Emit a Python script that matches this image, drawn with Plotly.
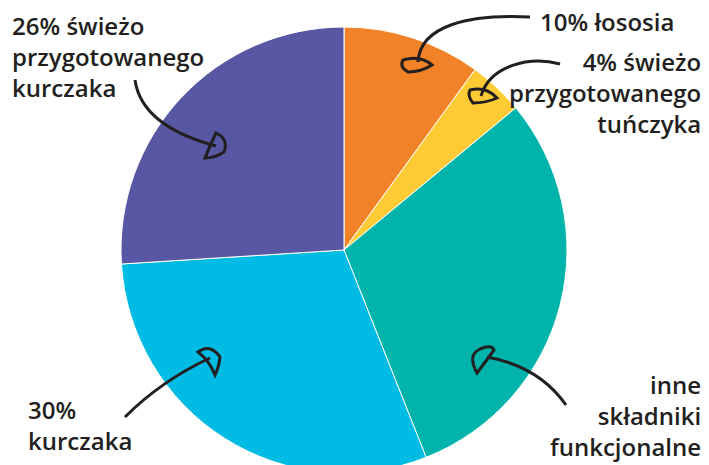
import plotly.graph_objects as go

W, H = 709, 473

labels = ["10% łososia", "4% świeżo<br>przygotowanego<br>tuńczyka", "inne<br>składniki<br>funkcjonalne",
          "30%<br>kurczaka", "26% świeżo<br>przygotowanego<br>kurczaka"]
values = [10, 4, 30, 30, 26]
colors = ["#F28227", "#FECB34", "#00B4AB", "#00BCE5", "#5757A3"]

# label placement (pixels): x edge, first baseline, anchor
label_pos = [(676, 28, "right"), (703, 68, "right"), (703, 391, "right"),
             (26, 416, "left"), (10, 32, "left")]

# hand-drawn arrows in pixel space: curve + head outline
arrow_lines = [
    "M 530 17 C 470 14 420 25 418 62",
    "M 560 64 C 530 56 490 65 481 96",
    "M 566 405 C 545 375 515 362 487 357",
    "M 125 417 C 150 392 180 372 210 358",
    "M 135 80 C 140 115 175 135 216 146",
]
arrow_heads = [
    "M 403 60 Q 420 55 432 65 Q 421 72 408 72 Q 399 67 403 60 Z",
    "M 470 90 Q 486 86 497 98 Q 486 103 473 103 Q 467 96 470 90 Z",
    "M 477 373 Q 467 355 480 349 Q 492 344 494 350 Q 486 361 477 373 Z",
    "M 198 352 Q 210 343 220 357 Q 219 367 215 375 Q 209 360 198 352 Z",
    "M 216 133 Q 229 139 224 152 Q 215 158 205 158 Q 210 145 216 133 Z",
]


def to_paper(path):
    out = []
    toks = path.split()
    i = 0
    while i < len(toks):
        t = toks[i]
        if t.isalpha():
            out.append(t)
            i += 1
        else:
            x = float(toks[i]); y = float(toks[i + 1])
            out.append(f"{x / W:.5f},{1 - y / H:.5f}")
            i += 2
    return " ".join(out)


fig = go.Figure(go.Pie(
    values=values,
    labels=labels,
    marker=dict(colors=colors, line=dict(color="white", width=1)),
    sort=False,
    direction="clockwise",
    rotation=0,
    textinfo="none",
    hoverinfo="none",
    showlegend=False,
    domain=dict(x=[121 / W, 567 / W], y=[0, 446 / H]),
))

FS = 24
font = dict(family="'Open Sans', Lato, sans-serif", size=FS, color="#231F20", weight=600)
for lab, (x, base, anc) in zip(labels, label_pos):
    top = base - 25
    fig.add_annotation(text=lab, x=x / W, y=1 - top / H, xref="paper", yref="paper",
                       xanchor=anc, yanchor="top", align=anc, showarrow=False, font=font)

for p in arrow_lines:
    fig.add_shape(type="path", path=to_paper(p), xref="paper", yref="paper",
                  line=dict(color="#231F20", width=3))
for p in arrow_heads:
    fig.add_shape(type="path", path=to_paper(p), xref="paper", yref="paper",
                  line=dict(color="#231F20", width=3), fillcolor="rgba(0,0,0,0)")

fig.update_layout(width=W, height=H, margin=dict(l=0, r=0, t=0, b=0),
                  paper_bgcolor="white", plot_bgcolor="white")

fig.write_html("out.html", config={"displayModeBar": False},
               post_script="document.documentElement.style.overflow='hidden';document.body.style.overflow='hidden';document.body.style.margin='0';")
